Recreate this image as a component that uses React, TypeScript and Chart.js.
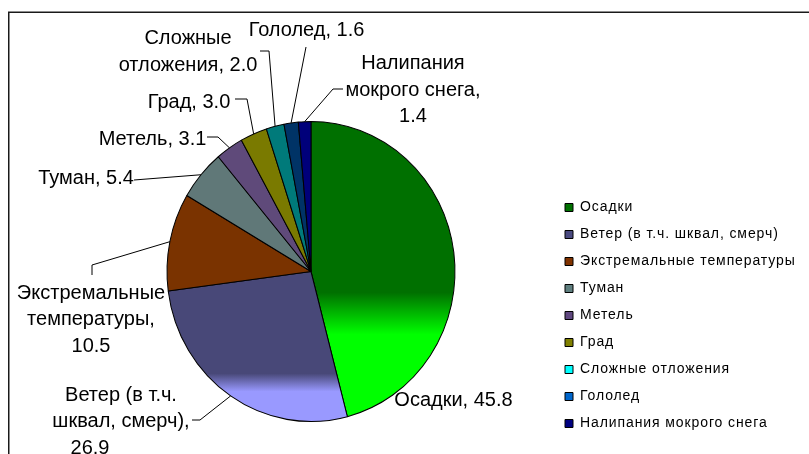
import { useEffect, useRef } from 'react';
import { Chart, registerables } from 'chart.js';

Chart.register(...registerables);

// ---- data ----
const CATEGORIES = [
  'Осадки',
  'Ветер (в т.ч. шквал, смерч)',
  'Экстремальные температуры',
  'Туман',
  'Метель',
  'Град',
  'Сложные отложения',
  'Гололед',
  'Налипания мокрого снега',
];
const VALUES = [45.8, 26.9, 10.5, 5.4, 3.1, 3.0, 2.0, 1.6, 1.4];
// data label text lines, {v} is replaced by the value
const LABEL_TEMPLATES = [
  ['Осадки, {v}'],
  ['Ветер (в т.ч.', 'шквал, смерч),', '{v}'],
  ['Экстремальные', 'температуры,', '{v}'],
  ['Туман, {v}'],
  ['Метель, {v}'],
  ['Град, {v}'],
  ['Сложные', 'отложения, {v}'],
  ['Гололед, {v}'],
  ['Налипания', 'мокрого снега,', '{v}'],
];

// ---- styles ----
const FONT = '"Liberation Sans", Arial, sans-serif';
const SLICE_DARK = ['#007000', '#484878', '#7a3300', '#607878', '#5f4a7a', '#7a7a00', '#007a7a', '#003366', '#00007a'];
const SLICE_LIGHT: (string | null)[] = ['#00ff00', '#9999ff', null, null, null, null, null, null, null];
const GRAD_STOPS: number[][] = [[0.57, 0.71], [0.84, 0.9], [], [], [], [], [], [], []];
const LEGEND_COLORS = ['#007000', '#4a4a80', '#803300', '#5f7f7f', '#604880', '#808000', '#00ffff', '#0066cc', '#000080'];
const LEGEND_SPACING = '0.9px';
const LEGEND_LEFT = 552;
const PIE_RADIUS = 144;
const Y_STRETCH = 150 / 144;

// ---- label layout (pixel positions of text blocks and leader elbows) ----
const LABEL_POS = [
  { x: 453.5, y: 400 },
  { x: 121, y: 395 },
  { x: 91, y: 293 },
  { x: 86, y: 178 },
  { x: 152.5, y: 139 },
  { x: 189, y: 102.5 },
  { x: 188, y: 38.5 },
  { x: 306.5, y: 30 },
  { x: 413, y: 63.5 },
];
// per-line horizontal nudges (only the last line of the wind label sits left)
const LINE_SHIFT: Record<number, number[]> = { 1: [0, 0, -31] };
const LEADERS: number[][][] = [
  [],
  [[192, 420], [200, 420]],
  [[92, 275], [92, 265]],
  [[134, 180]],
  [[207, 137], [218, 137]],
  [[235, 99], [247, 99]],
  [[260, 51], [269, 51]],
  [[306, 47]],
  [[343, 89], [333, 89]],
];
const LINE_H = 26.7;

const piePlugin = {
  id: 'pieExtras',
  beforeLayout(chart: any) {
    chart.ctx.letterSpacing = LEGEND_SPACING;
  },
  beforeDraw(chart: any) {
    chart.ctx.letterSpacing = LEGEND_SPACING;
  },
  beforeDatasetsDraw(chart: any) {
    const el = chart.getDatasetMeta(0).data[0];
    const ctx = chart.ctx;
    ctx.save();
    ctx.translate(0, el.y);
    ctx.scale(1, Y_STRETCH);
    ctx.translate(0, -el.y);
  },
  afterDatasetsDraw(chart: any) {
    const ctx = chart.ctx;
    ctx.restore();
    const meta = chart.getDatasetMeta(0);
    ctx.save();
    ctx.letterSpacing = '0px';
    ctx.strokeStyle = '#000';
    ctx.lineWidth = 1;
    meta.data.forEach((el: any, i: number) => {
      const pts = LEADERS[i];
      if (pts.length) {
        const mid = (el.startAngle + el.endAngle) / 2;
        const ax = el.x + el.outerRadius * Math.cos(mid);
        const ay = el.y + el.outerRadius * Y_STRETCH * Math.sin(mid);
        ctx.beginPath();
        ctx.moveTo(pts[0][0], pts[0][1]);
        for (let k = 1; k < pts.length; k++) ctx.lineTo(pts[k][0], pts[k][1]);
        ctx.lineTo(ax, ay);
        ctx.stroke();
      }
    });
    ctx.fillStyle = '#000';
    ctx.font = `20px ${FONT}`;
    ctx.textAlign = 'center';
    ctx.textBaseline = 'middle';
    LABEL_TEMPLATES.forEach((lines, i) => {
      const pos = LABEL_POS[i];
      const shifts = LINE_SHIFT[i] || [];
      lines.forEach((t, k) => {
        ctx.fillText(t.replace('{v}', VALUES[i].toFixed(1)), pos.x + (shifts[k] || 0), pos.y + k * LINE_H);
      });
    });
    ctx.restore();
  },
  afterDraw(chart: any) {
    const ctx = chart.ctx;
    ctx.save();
    ctx.strokeStyle = '#1a1a1a';
    ctx.lineWidth = 1.5;
    ctx.beginPath();
    ctx.moveTo(8.75, 454);
    ctx.lineTo(8.75, 12.25);
    ctx.lineTo(809, 12.25);
    ctx.stroke();
    ctx.restore();
  },
};

export default function App() {
  const ref = useRef<HTMLCanvasElement>(null);
  useEffect(() => {
    const canvas = ref.current!;
    const chart = new Chart(canvas, {
      type: 'pie',
      data: {
        labels: CATEGORIES,
        datasets: [
          {
            data: VALUES,
            radius: PIE_RADIUS,
            clip: false,
            borderColor: '#000',
            borderWidth: 1,
            backgroundColor: (c: any) => {
              const i = c.dataIndex;
              const dark = SLICE_DARK[i];
              const light = SLICE_LIGHT[i];
              const area = c.chart.chartArea;
              if (!light || !area) return dark;
              const cy = (area.top + area.bottom) / 2;
              const g = c.chart.ctx.createLinearGradient(0, cy - PIE_RADIUS, 0, cy + PIE_RADIUS);
              g.addColorStop(0, dark);
              g.addColorStop(GRAD_STOPS[i][0], dark);
              g.addColorStop(GRAD_STOPS[i][1], light);
              g.addColorStop(1, light);
              return g;
            },
          } as any,
        ],
      },
      options: {
        responsive: false,
        animation: false,
        devicePixelRatio: 1,
        layout: { padding: { left: 70, right: 0, top: 99.5, bottom: 10.5 } },
        plugins: {
          tooltip: { enabled: false },
          legend: {
            position: 'right',
            align: 'end',
            labels: {
              boxWidth: 8,
              boxHeight: 8,
              padding: 13,
              color: '#000',
              font: { family: FONT, size: 14 },
              generateLabels: () =>
                CATEGORIES.map((t, i) => ({
                  text: t,
                  fillStyle: LEGEND_COLORS[i],
                  strokeStyle: '#000',
                  lineWidth: 1,
                  hidden: false,
                  index: i,
                  datasetIndex: 0,
                })),
            },
          },
        },
      },
      plugins: [piePlugin],
    });
    // shift the legend so its left edge lands where the reference has it
    const legend: any = (chart as any).legend;
    const dx = legend.left - LEGEND_LEFT;
    if (Math.abs(dx) > 0.1) {
      (chart.options.layout as any).padding.right = dx;
      chart.update();
    }
    return () => chart.destroy();
  }, []);
  return (
    <div style={{ position: 'fixed', left: 0, top: 0, width: 809, height: 454, background: '#fff' }}>
      <canvas ref={ref} width={809} height={454} style={{ display: 'block', width: 809, height: 454 }} />
    </div>
  );
}
